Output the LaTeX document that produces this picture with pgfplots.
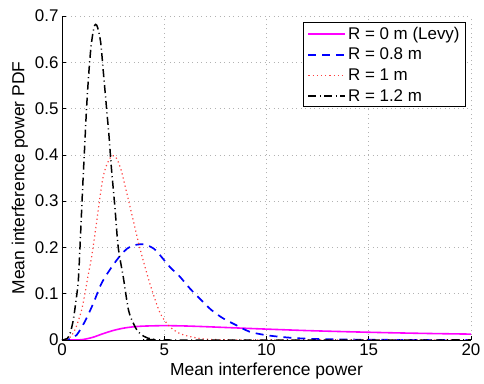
\documentclass[border=0pt]{standalone}
\usepackage{fontspec}
\setmainfont{Liberation Sans}
\usepackage{pgfplots}
\pgfplotsset{compat=1.18}
\definecolor{mag}{rgb}{1,0,1}
\definecolor{blu}{rgb}{0,0,1}
\definecolor{rd}{rgb}{1,0.25,0.25}
\begin{document}
\begin{tikzpicture}
\begin{axis}[
  name=ax,
  scale only axis,
  width=409bp, height=324bp,
  xmin=0, xmax=20, ymin=0, ymax=0.7,
  xtick={0,5,10,15,20},
  ytick={0,0.1,0.2,0.3,0.4,0.5,0.6,0.7},
  axis x line*=bottom, axis y line*=left,
  axis line style={line width=0.8pt,black},
  tick align=inside,
  major tick length=4bp,
  tick style={black,line width=0.6pt},
  /pgf/number format/assume math mode=true,
  yticklabel style={/pgf/number format/fixed,/pgf/number format/precision=1},
  ticklabel style={font=\fontsize{17}{20}\selectfont},
  label style={font=\fontsize{17.5}{21}\selectfont},
  xlabel={Mean interference power},
  ylabel={Mean interference power PDF},
  xlabel style={yshift=-1bp},
  grid=major,
  major grid style={gray!60,line width=0.6pt,dash pattern=on 1bp off 3.5bp},
  legend cell align=left,
  legend style={at={(1,1)},anchor=north east,xshift=-5bp,yshift=-6.5bp,
    draw=black,line width=0.8pt,fill=white,
    font=\fontsize{17}{20}\selectfont,
    inner xsep=4bp,inner ysep=2bp,row sep=3.5bp},
  legend image code/.code={\draw[#1] (0cm,0cm) -- (1.3cm,0cm);},
]
\addplot[mag,line width=1.6pt,smooth] coordinates {
(0,0) (0.5,0) (1,0.00085) (1.5,0.0057) (2,0.0135) (2.5,0.0205) (3,0.0255)
(3.5,0.0285) (4,0.0300) (5,0.0310) (6,0.0303) (7,0.0288) (8,0.0270)
(10,0.0235) (12,0.0203) (14,0.0178) (16,0.0157) (18,0.0140) (20,0.0127)};
\addlegendentry{R = 0 m (Levy)}
\addplot[blu,line width=1.7pt,dash pattern=on 8bp off 6bp,smooth] coordinates {
(0,0) (0.4,0.002) (0.72,0.011) (1.12,0.04) (1.53,0.079) (1.94,0.123)
(2.5,0.162) (3.0,0.19) (3.4,0.203) (4.0,0.207) (4.5,0.197) (4.78,0.184)
(5.27,0.158) (5.76,0.137) (6.24,0.112) (6.81,0.086) (7.3,0.065) (7.87,0.047)
(8.52,0.032) (9.17,0.018) (9.9,0.011) (10.63,0.007) (11.45,0.004)
(12.5,0.002) (14,0.001) (16,0.0003) (20,0)};
\addlegendentry{R = 0.8 m}
\addplot[rd,line width=1.2pt,dash pattern=on 1.2bp off 3bp,smooth] coordinates {
(0,0) (0.3,0.002) (0.55,0.015) (0.75,0.035) (0.96,0.065) (1.1,0.095)
(1.28,0.14) (1.45,0.18) (1.6,0.225) (1.8,0.29) (2.0,0.35) (2.2,0.38)
(2.4,0.396) (2.55,0.398) (2.7,0.39) (2.9,0.366) (3.1,0.33) (3.4,0.274)
(3.8,0.2) (4.29,0.123) (4.8,0.058) (5.27,0.029) (5.76,0.014) (6.4,0.006)
(7,0.002) (8,0.0005) (10,0) (20,0)};
\addlegendentry{R = 1 m}
\addplot[black,line width=1.5pt,dash pattern=on 8bp off 3.5bp on 1bp off 3.5bp,smooth] coordinates {
(0,0) (0.25,0.003) (0.4,0.015) (0.55,0.043) (0.7,0.09) (0.8,0.13) (0.9,0.22)
(1.0,0.32) (1.1,0.41) (1.2,0.5) (1.3,0.57) (1.4,0.625) (1.5,0.66) (1.6,0.68)
(1.7,0.68) (1.8,0.665) (1.9,0.64) (2.0,0.59) (2.1,0.54) (2.2,0.49) (2.3,0.44)
(2.4,0.38) (2.5,0.33) (2.6,0.28) (2.75,0.2) (3.0,0.135) (3.25,0.065)
(3.5,0.035) (3.72,0.018) (4.0,0.008) (4.2,0.004) (4.6,0.001) (5,0) (20,0)};
\addlegendentry{R = 1.2 m}
\end{axis}
\pgfresetboundingbox
\path ([xshift=-62bp,yshift=-44bp]ax.south west) rectangle ([xshift=13bp,yshift=16bp]ax.north east);
\end{tikzpicture}
\end{document}
